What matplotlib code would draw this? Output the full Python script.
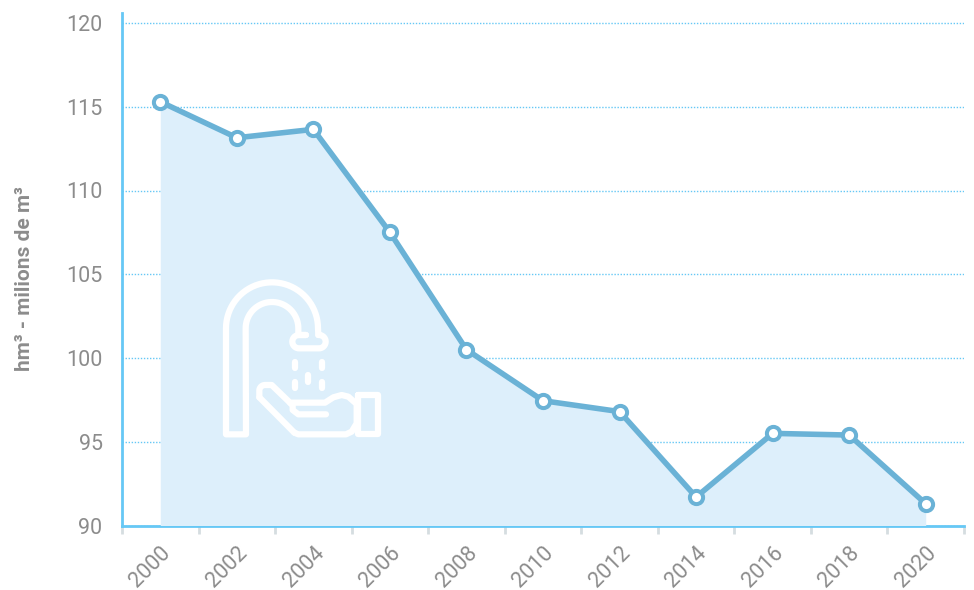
import numpy as np
import matplotlib
matplotlib.use('Agg')
import matplotlib.pyplot as plt
from matplotlib.path import Path
from matplotlib.patches import PathPatch

plt.rcParams['font.family'] = 'Roboto'

years = ['2000', '2002', '2004', '2006', '2008', '2010', '2012', '2014', '2016', '2018', '2020']
volume = [115.3, 113.15, 113.65, 107.5, 100.5, 97.45, 96.8, 91.7, 95.5, 95.4, 91.3]
yticks = [90, 95, 100, 105, 110, 115, 120]

W, H = 974, 590
line_col = '#6ab2d6'
fill_col = '#ddeffb'
axis_col = '#66c8f5'
text_col = '#8c8c8c'

fig = plt.figure(figsize=(W/100, H/100), dpi=100)
ax = fig.add_axes([122/W, 1-525.5/H, (964-122)/W, (525.5-13)/H])

x = np.arange(len(years))
ax.set_xlim(-0.5, len(years)-0.5)
ax.set_ylim(90, 90+(525.5-13)/16.75)

ax.grid(axis='y', color=axis_col, lw=1, ls=(0, (1, 1.2)), zorder=1)
ax.set_axisbelow(True)
ax.fill_between(x, 90, volume, color=fill_col, lw=0, zorder=3)
ax.plot(x, volume, color=line_col, lw=4, marker='o', ms=9.5, mfc='white', mec=line_col, mew=2.9, zorder=5, clip_on=False)

for side in ['top', 'right']:
    ax.spines[side].set_visible(False)
for side in ['left', 'bottom']:
    ax.spines[side].set_color(axis_col)
    ax.spines[side].set_linewidth(2)

# ticks on the band edges, labels on the band centres
ax.set_xticks(np.arange(len(years)+1)-0.5)
ax.set_xticklabels([])
ax.set_xticks(x, minor=True)
ax.set_xticklabels(years, minor=True, rotation=45, ha='right', va='top', rotation_mode='anchor')
ax.tick_params(axis='x', which='major', length=5.5, width=2, color='#d5dde0')
ax.tick_params(axis='x', which='minor', length=0, pad=12, labelsize=15.5, labelcolor=text_col)
ax.set_yticks(yticks)
ax.tick_params(axis='y', length=0, pad=14, labelsize=15.5, labelcolor=text_col)
fig.text(25/W, 1-279/H, 'hm³ - milions de m³', rotation=90, ha='center', va='center',
         fontsize=15, fontweight='bold', color=text_col)

# faucet icon, drawn in the zoomed crop coordinates
icon = fig.add_axes([0, 0, 1, 1], zorder=6)
icon.set_xlim(0, W)
icon.set_ylim(H, 0)
icon.axis('off')
icon.patch.set_alpha(0)

def pts(seq):
    return [(200+a/3, 260+b/3) for a, b in seq]

def arc(cx, cy, r, a0, a1, n=40):
    t = np.radians(np.linspace(a0, a1, n))
    return [(cx+r*np.cos(v), cy-r*np.sin(v)) for v in t]

def stroke(seq, closed=False, lw=4.5):
    p = pts(seq)
    if closed:
        p = p+[p[0]]
    icon.add_patch(PathPatch(Path(p), fc='none', ec='white', lw=lw, capstyle='round', joinstyle='round'))

stroke([(295, 225), (318, 225)])
stroke([(295, 225), (295, 205)]+arc(216, 205, 79, 0, 180)+[(138, 523), (78, 523)]
       + arc(216, 205, 138, 180, 0)+[(355, 225)])
stroke([(355, 225), (362, 225)]+arc(357, 245, 20, 70, -90, 20)+[(297, 265)]
       + arc(297, 245, 20, 270, 90, 20)+[(318, 225)])
for dx, y0 in [(286, 305), (365, 305), (325, 345), (286, 365), (365, 365)]:
    stroke([(dx, y0), (dx, y0+20)])
stroke([(475, 405), (535, 405), (535, 523), (475, 523)], closed=True)
stroke([(178, 412), (178, 395)]+arc(195, 392, 17, 180, 90, 10)+[(215, 375), (270, 428), (375, 428),
       (400, 412), (425, 405), (445, 410), (470, 432), (470, 490), (455, 515), (438, 523),
       (295, 523), (283, 518)])
stroke([(283, 518), (178, 412)])
stroke([(270, 428), (278, 437), (278, 450), (295, 463), (378, 463)])

fig.savefig('out.png', dpi=100)
